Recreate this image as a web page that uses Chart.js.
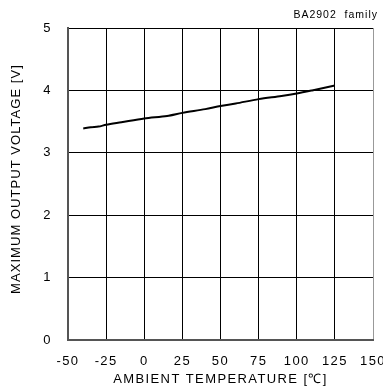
<!DOCTYPE html>
<html lang="en">
<head>
    <meta charset="UTF-8">
    <title>Maximum Output Voltage vs Ambient Temperature</title>
    <style>
        body { margin: 0; padding: 0; background: #ffffff; }
        #wrap { width: 383px; height: 392px; }
    </style>
</head>
<body>
    <div id="wrap">
        <canvas id="myChart" width="383" height="392"></canvas>
    </div>

    <script src="https://cdn.jsdelivr.net/npm/chart.js"></script>
    <script>
        // Values
        const temps = [-40, -35, -30, -25, -15, 0, 15, 25, 40, 50, 60, 75, 90, 100, 110, 125];
        const voltages = [3.39, 3.41, 3.42, 3.45, 3.49, 3.55, 3.59, 3.64, 3.70, 3.75, 3.79, 3.86, 3.91, 3.95, 4.00, 4.08];

        const xTicks = [-50, -25, 0, 25, 50, 75, 100, 125, 150];
        const yTicks = [0, 1, 2, 3, 4, 5];

        const yTitle = 'MAXIMUM OUTPUT VOLTAGE [V]';
        const cornerNote = 'BA2902  family';

        const FONT = "'Liberation Sans', Arial, sans-serif";

        // the reference font is wider than Arial, so letters get some extra spacing
        const wideText = {
            id: 'wideText',
            beforeDraw(chart) {
                chart.ctx.letterSpacing = '1.4px';
            },
            afterDraw(chart) {
                const ctx = chart.ctx;
                const area = chart.chartArea;
                ctx.save();
                ctx.fillStyle = '#000';

                // corner note
                ctx.letterSpacing = '1px';
                ctx.font = "10.5px " + FONT;
                ctx.textAlign = 'right';
                ctx.textBaseline = 'middle';
                ctx.fillText(cornerNote, 378, 15);

                // vertical axis title
                ctx.letterSpacing = '1.05px';
                ctx.font = "13px " + FONT;
                ctx.translate(16, (area.top + area.bottom) / 2 - 5);
                ctx.rotate(-Math.PI / 2);
                ctx.textAlign = 'center';
                ctx.textBaseline = 'middle';
                ctx.fillText(yTitle, 0, 0);
                ctx.restore();
            }
        };

        function renderChart() {
            const ctx = document.getElementById('myChart').getContext('2d');
            new Chart(ctx, {
                type: 'line',
                data: {
                    datasets: [{
                        data: temps.map((t, i) => ({ x: t, y: voltages[i] })),
                        borderColor: '#000',
                        borderWidth: 2,
                        pointRadius: 0,
                        tension: 0.3,
                        fill: false
                    }]
                },
                options: {
                    responsive: false,
                    animation: false,
                    layout: { padding: { top: 28, right: 10, left: 0, bottom: 0 } },
                    plugins: {
                        legend: { display: false },
                        tooltip: { enabled: false }
                    },
                    scales: {
                        x: {
                            type: 'linear',
                            min: -50,
                            max: 150,
                            afterBuildTicks: axis => { axis.ticks = xTicks.map(v => ({ value: v })); },
                            afterFit: axis => {
                                axis.height = 52;
                                axis.paddingLeft = 0;
                                axis.paddingRight = 0;
                            },
                            ticks: {
                                color: '#000',
                                padding: 14,
                                maxRotation: 0,
                                font: { family: FONT, size: 13 }
                            },
                            grid: {
                                drawTicks: false,
                                color: c => (c.tick && c.tick.value === 150) ? '#999' : '#000',
                                lineWidth: 1
                            },
                            border: { color: '#555', width: 2 },
                            title: {
                                display: true,
                                text: 'AMBIENT TEMPERATURE [\u2103]',
                                color: '#000',
                                font: { family: FONT, size: 13 },
                                padding: { top: 0, bottom: 5 }
                            }
                        },
                        y: {
                            min: 0,
                            max: 5,
                            afterBuildTicks: axis => { axis.ticks = yTicks.map(v => ({ value: v })); },
                            afterFit: axis => {
                                axis.width = 68;
                                axis.paddingTop = 0;
                                axis.paddingBottom = 0;
                            },
                            ticks: {
                                color: '#000',
                                padding: 16,
                                font: { family: FONT, size: 13 }
                            },
                            grid: {
                                drawTicks: false,
                                color: '#000',
                                lineWidth: 1
                            },
                            border: { color: '#555', width: 2 },
                            title: { display: false }
                        }
                    }
                },
                plugins: [wideText]
            });
        }

        document.addEventListener('DOMContentLoaded', renderChart);
    </script>
</body>
</html>
